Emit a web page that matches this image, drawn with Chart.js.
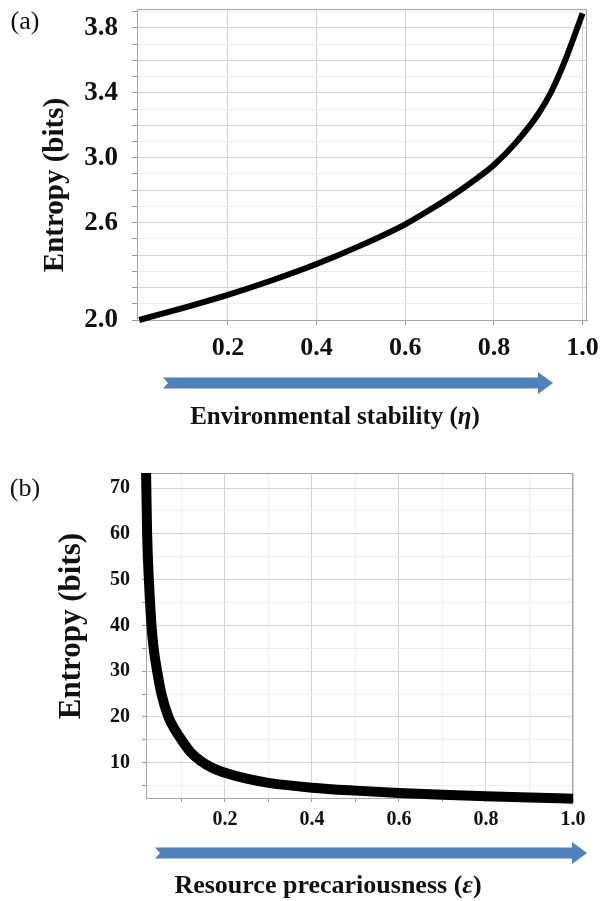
<!DOCTYPE html>
<html><head><meta charset="utf-8">
<script src="https://cdn.jsdelivr.net/npm/chart.js@4.4.1/dist/chart.umd.min.js"></script>
<style>
html,body{margin:0;padding:0;background:#fff;width:600px;height:901px;overflow:hidden}
.wrap{position:absolute;left:0;width:600px}
canvas{display:block}
</style></head><body>
<div class="wrap" style="top:0;height:450px"><canvas id="ca" width="600" height="450"></canvas></div>
<div class="wrap" style="top:450px;height:451px"><canvas id="cb" width="600" height="451"></canvas></div>
<script>
// ---------- Panel (a) data ----------
const etaValues   = [0, 0.1, 0.2, 0.3, 0.4, 0.5, 0.6, 0.65, 0.7, 0.75, 0.8, 0.85, 0.9, 0.93, 0.96, 0.98, 1.0];
const entropyA    = [2.000, 2.075, 2.155, 2.245, 2.345, 2.46, 2.59, 2.67, 2.755, 2.85, 2.955, 3.095, 3.27, 3.41, 3.595, 3.74, 3.89];
const yGridA      = [2.0, 2.1, 2.2, 2.3, 2.4, 2.5, 2.6, 2.7, 2.8, 2.9, 3.0, 3.1, 3.2, 3.3, 3.4, 3.5, 3.6, 3.7, 3.8, 3.9];
const yLabelsA    = [2.0, 2.6, 3.0, 3.4, 3.8];
const xTicksA     = [0.2, 0.4, 0.6, 0.8, 1.0];
const labelA      = "(a)";
const xTitleA     = "Environmental stability (\u03b7)";
const yTitleA     = "Entropy (bits)";

// ---------- Panel (b) data ----------
const epsValues   = [0.0185, 0.021, 0.025, 0.031, 0.036, 0.044, 0.054, 0.07, 0.085, 0.10, 0.12, 0.145, 0.17, 0.2, 0.25, 0.3, 0.4, 0.5, 0.6, 0.7, 0.8, 0.9, 1.0];
const entropyB    = [74, 60, 50, 40, 35, 30, 25, 20, 17.2, 15, 12.4, 10.3, 8.9, 7.8, 6.5, 5.6, 4.55, 3.9, 3.4, 3.0, 2.68, 2.4, 2.15];
const yGridB      = [5, 10, 15, 20, 25, 30, 35, 40, 45, 50, 55, 60, 65, 70];
const yLabelsB    = [10, 20, 30, 40, 50, 60, 70];
const xGridB      = [0.1, 0.2, 0.3, 0.4, 0.5, 0.6, 0.7, 0.8, 0.9, 1.0];
const xLabelsB    = [0.2, 0.4, 0.6, 0.8, 1.0];
const labelB      = "(b)";
const xTitleB     = "Resource precariousness (\u03b5)";
const yTitleB     = "Entropy (bits)";

const SERIF = "'Liberation Serif','Times New Roman',Times,serif";
const GRID_MAJOR = '#d4d4d4', GRID_MINOR = '#ededed', FRAME = '#a8a8a8', TICKC = '#9c9c9c';
const ARROW = '#4f81bd';

function has(list, v){ return list.some(t => Math.abs(t - v) < 1e-6); }

// draws a title, setting Greek letters in italic like math symbols
function drawMixed(ctx, text, cx, cy, size){
  const parts = [];
  for (const ch of text) {
    const it = /[\u0370-\u03ff]/.test(ch);
    if (parts.length && parts[parts.length - 1].it === it) parts[parts.length - 1].t += ch;
    else parts.push({t: ch, it: it});
  }
  const fontOf = p => (p.it ? 'italic bold ' : 'bold ') + size + 'px ' + SERIF;
  let w = 0;
  parts.forEach(p => { ctx.font = fontOf(p); p.w = ctx.measureText(p.t).width; w += p.w; });
  let x = cx - w / 2;
  ctx.textAlign = 'left';
  parts.forEach(p => { ctx.font = fontOf(p); ctx.fillText(p.t, x, cy); x += p.w; });
}

const decor = {
  id: 'decor',
  beforeDatasetsDraw(chart, args, o){
    const a = chart.chartArea, ctx = chart.ctx;
    ctx.save();
    ctx.strokeStyle = FRAME; ctx.lineWidth = 1;
    ctx.strokeRect(Math.round(a.left) + 0.5, Math.round(a.top) + 0.5, Math.round(a.right - a.left) - 1, Math.round(a.bottom - a.top));
    ctx.restore();
  },
  afterDraw(chart, args, o){
    const ctx = chart.ctx;
    ctx.save();
    const ar = o.arrow, h = ar.shaft / 2, H = ar.head / 2;
    ctx.fillStyle = ARROW;
    ctx.beginPath();
    ctx.moveTo(ar.x1, ar.y - h);
    ctx.lineTo(ar.x2 - ar.headLen, ar.y - h);
    ctx.lineTo(ar.x2 - ar.headLen, ar.y - H);
    ctx.lineTo(ar.x2, ar.y);
    ctx.lineTo(ar.x2 - ar.headLen, ar.y + H);
    ctx.lineTo(ar.x2 - ar.headLen, ar.y + h);
    ctx.lineTo(ar.x1, ar.y + h);
    ctx.lineTo(ar.x1 + ar.notch, ar.y);
    ctx.closePath();
    ctx.fill();
    ctx.fillStyle = '#111';
    ctx.textBaseline = 'middle';
    drawMixed(ctx, o.xTitle.text, o.xTitle.x, o.xTitle.y, o.xTitle.size);
    ctx.textAlign = 'center';
    ctx.save();
    ctx.translate(o.yTitle.x, o.yTitle.y);
    ctx.rotate(-Math.PI / 2);
    ctx.font = 'bold ' + o.yTitle.size + 'px ' + SERIF;
    ctx.fillText(o.yTitle.text, 0, 0);
    ctx.restore();
    ctx.textAlign = 'center';
    ctx.font = o.panel.size + 'px ' + SERIF;
    ctx.fillText(o.panel.text, o.panel.x, o.panel.y);
    ctx.restore();
  }
};

function makeChart(id, cfg){
  const pts = cfg.xs.map((x, i) => ({x: x, y: cfg.ys[i]}));
  return new Chart(document.getElementById(id), {
    type: 'line',
    data: { datasets: [{
      data: pts,
      borderColor: '#000',
      borderWidth: cfg.lineWidth,
      pointRadius: 0,
      fill: false,
      cubicInterpolationMode: 'monotone',
      clip: {left: 6, top: 0, right: 6, bottom: 8}
    }]},
    options: {
      responsive: false,
      animation: false,
      devicePixelRatio: 1,
      layout: { padding: cfg.padding },
      plugins: {
        legend: {display: false},
        tooltip: {enabled: false},
        decor: cfg.decor
      },
      scales: {
        x: {
          type: 'linear',
          min: cfg.xMin, max: cfg.xMax,
          afterBuildTicks: s => { s.ticks = cfg.xGrid.map(v => ({value: v})); },
          afterFit: s => { s.height = cfg.xHeight; s.paddingLeft = 0; s.paddingRight = 0; },
          border: {display: true, color: FRAME},
          grid: {
            color: c => (c.tick && has(cfg.xMajor, c.tick.value)) ? GRID_MAJOR : GRID_MINOR,
            tickColor: TICKC, tickLength: cfg.tickLen, lineWidth: 1
          },
          ticks: {
            autoSkip: false, maxRotation: 0, padding: cfg.xPad, color: '#111',
            font: {family: SERIF, weight: 'bold', size: cfg.xFont},
            callback: v => has(cfg.xLabels, v) ? Number(v).toFixed(1) : ''
          }
        },
        y: {
          type: 'linear',
          min: cfg.yMin, max: cfg.yMax,
          afterBuildTicks: s => { s.ticks = cfg.yGrid.map(v => ({value: v})); },
          afterFit: s => { s.width = cfg.yWidth; s.paddingTop = 0; s.paddingBottom = 0; },
          border: {display: true, color: FRAME},
          grid: {
            color: c => (c.tick && has(cfg.yMajor, c.tick.value)) ? GRID_MAJOR : GRID_MINOR,
            tickColor: TICKC, tickLength: cfg.tickLen, lineWidth: 1
          },
          ticks: {
            autoSkip: false, padding: cfg.yPad, color: '#111',
            font: {family: SERIF, weight: 'bold', size: cfg.yFont},
            callback: v => has(cfg.yLabels, v) ? cfg.yFmt(v) : ''
          }
        }
      }
    },
    plugins: [decor]
  });
}

makeChart('ca', {
  xs: etaValues, ys: entropyA, lineWidth: 6,
  padding: {left: 0, top: 9, right: 13, bottom: 0},
  xMin: -0.005, xMax: 1.01, yMin: 2.0, yMax: 3.917,
  xGrid: xTicksA, xMajor: xTicksA, xLabels: xTicksA,
  yGrid: yGridA, yMajor: [2.0, 2.2, 2.4, 2.6, 2.8, 3.0, 3.2, 3.4, 3.6, 3.8], yLabels: yLabelsA,
  yFmt: v => Number(v).toFixed(1),
  xHeight: 130, yWidth: 137, tickLen: 5, xPad: 8, yPad: 14, xFont: 26, yFont: 27,
  decor: {
    arrow: {x1: 163, x2: 553, y: 383, shaft: 11, head: 22, headLen: 15, notch: 5},
    xTitle: {text: xTitleA, x: 335, y: 418, size: 25},
    yTitle: {text: yTitleA, x: 56, y: 185, size: 29},
    panel: {text: labelA, x: 25, y: 22, size: 26}
  }
});

makeChart('cb', {
  xs: epsValues, ys: entropyB, lineWidth: 10,
  padding: {left: 0, top: 23, right: 27, bottom: 0},
  xMin: 0.0184, xMax: 1.0, yMin: 2.29, yMax: 73.28,
  xGrid: xGridB, xMajor: xLabelsB, xLabels: xLabelsB,
  yGrid: yGridB, yMajor: yLabelsB, yLabels: yLabelsB,
  yFmt: v => String(v),
  xHeight: 103, yWidth: 146, tickLen: 4, xPad: 6, yPad: 12, xFont: 20, yFont: 20,
  decor: {
    arrow: {x1: 155, x2: 587, y: 403, shaft: 11, head: 22, headLen: 15, notch: 5},
    xTitle: {text: xTitleB, x: 328, y: 436, size: 26},
    yTitle: {text: yTitleB, x: 72, y: 176, size: 31},
    panel: {text: labelB, x: 25, y: 39, size: 26}
  }
});
</script>
</body></html>
